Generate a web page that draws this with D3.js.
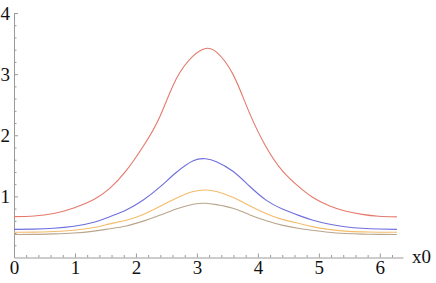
<!DOCTYPE html>
<html>
<head>
<meta charset="utf-8">
<script src="https://cdn.jsdelivr.net/npm/d3@7"></script>
<style>
  body { margin: 0; background: #fff; }
  .axis path, .axis line { stroke: #9a9a9a; stroke-width: 1; }
</style>
</head>
<body>
<svg id="chart" width="436" height="283"></svg>
<script>
// sample positions along x0
var xs = [0, 0.33, 0.65, 0.98, 1.31, 1.57, 1.84, 2.12, 2.39, 2.66, 2.94, 3.14,
          3.32, 3.59, 3.86, 4.14, 4.41, 4.68, 4.89, 5.16, 5.43, 5.71, 5.98, 6.28];

var redVals    = [0.668, 0.68, 0.72, 0.81, 0.95, 1.13, 1.42, 1.82, 2.30, 2.92, 3.30, 3.42,
                  3.36, 3.00, 2.37, 1.80, 1.41, 1.15, 0.99, 0.85, 0.76, 0.705, 0.675, 0.665];
var blueVals   = [0.46, 0.465, 0.478, 0.51, 0.576, 0.668, 0.777, 0.94, 1.15, 1.39, 1.584, 1.615,
                  1.568, 1.41, 1.17, 0.935, 0.79, 0.685, 0.614, 0.548, 0.504, 0.478, 0.466, 0.46];
var orangeVals = [0.412, 0.415, 0.425, 0.445, 0.49, 0.55, 0.61, 0.705, 0.835, 0.97, 1.08, 1.105,
                  1.08, 0.985, 0.85, 0.715, 0.62, 0.555, 0.505, 0.46, 0.432, 0.42, 0.414, 0.412];
var brownVals  = [0.376, 0.378, 0.386, 0.40, 0.432, 0.47, 0.516, 0.595, 0.69, 0.795, 0.872, 0.887,
                  0.865, 0.805, 0.70, 0.60, 0.525, 0.474, 0.445, 0.412, 0.392, 0.382, 0.378, 0.376];

var xTicks = [0, 1, 2, 3, 4, 5, 6];
var yTicks = [1, 2, 3, 4];

var series = [
    {name: "red", values: redVals, color: "#e5796c"},
    {name: "blue", values: blueVals, color: "#6f6fde"},
    {name: "orange", values: orangeVals, color: "#f4bc6b"},
    {name: "brown", values: brownVals, color: "#b9a58c"}
];

var FONT = "Liberation Serif";

var svg = d3.select("#chart");

var xScale = d3.scaleLinear().domain([0, 6.38]).range([14, 403]);
var yScale = d3.scaleLinear().domain([0, 4]).range([257.5, 13]);

function _minorTicks(lo, hi, step) {
    var out = [];
    for (var v = lo; v <= hi + 1e-9; v += step) {
        var r = Math.round(v * 10) / 10;
        if (Math.abs(r - Math.round(r)) > 1e-6) out.push(r);
    }
    return out;
}

function _styleAxis(g) {
    g.attr("font-family", FONT).attr("font-size", 19);
    g.selectAll("text").attr("fill", "#111");
}

// x axis: minor ticks, then major labelled ticks
svg.append("g")
    .attr("class", "axis")
    .attr("transform", "translate(0," + yScale(0) + ")")
    .call(d3.axisBottom(xScale).tickValues(_minorTicks(0, 6.2, 0.2)).tickSize(-2.5).tickFormat(""))
    .select(".domain").remove();

svg.append("g")
    .attr("class", "axis")
    .attr("transform", "translate(0," + yScale(0) + ")")
    .call(d3.axisBottom(xScale).tickValues(xTicks).tickSizeInner(-4).tickSizeOuter(0)
        .tickPadding(3).tickFormat(d3.format("d")))
    .call(_styleAxis);

// y axis
svg.append("g")
    .attr("class", "axis")
    .attr("transform", "translate(" + xScale(0) + ",0)")
    .call(d3.axisLeft(yScale).tickValues(_minorTicks(0, 4, 0.2)).tickSize(-2.5).tickFormat(""))
    .select(".domain").remove();

svg.append("g")
    .attr("class", "axis")
    .attr("transform", "translate(" + xScale(0) + ",0)")
    .call(d3.axisLeft(yScale).tickValues(yTicks).tickSizeInner(-4).tickSizeOuter(0)
        .tickPadding(4).tickFormat(d3.format("d")))
    .call(_styleAxis);

svg.append("text")
    .attr("x", 412)
    .attr("y", 263)
    .attr("font-family", FONT)
    .attr("font-size", 19)
    .attr("fill", "#111")
    .text("x0");

var line = d3.line()
    .x(function (d) { return xScale(d[0]); })
    .y(function (d) { return yScale(d[1]); })
    .curve(d3.curveNatural);

svg.append("g").selectAll("path")
    .data(series.slice().reverse())
    .enter().append("path")
    .attr("fill", "none")
    .attr("stroke", function (d) { return d.color; })
    .attr("stroke-width", 1.1)
    .attr("d", function (d) {
        return line(xs.map(function (x, i) { return [x, d.values[i]]; }));
    });
</script>
</body>
</html>
